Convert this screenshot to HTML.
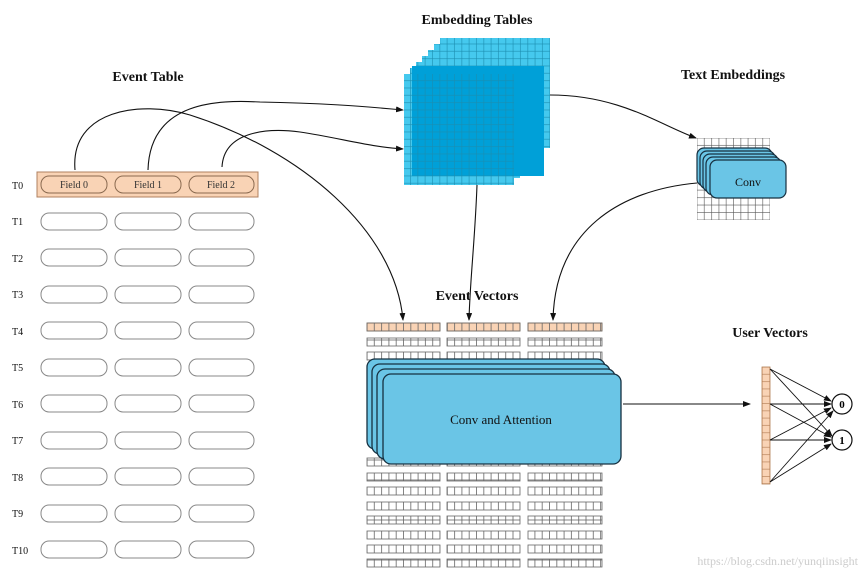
<!DOCTYPE html>
<html><head><meta charset="utf-8"><style>
html,body{margin:0;padding:0;background:#fff}
svg{display:block}
text{font-family:"Liberation Serif",serif}
</style></head><body>
<svg width="868" height="577" viewBox="0 0 868 577" xmlns="http://www.w3.org/2000/svg">
<defs>
<pattern id="cube" width="7.33" height="7.33" patternUnits="userSpaceOnUse">
<rect width="7.33" height="7.33" fill="none" stroke="#1b8db0" stroke-width="0.6"/>
</pattern>
<pattern id="tg" x="697" y="138" width="7.3" height="7.45" patternUnits="userSpaceOnUse">
<rect width="7.3" height="7.45" fill="none" stroke="#555" stroke-width="0.6"/>
</pattern>
<pattern id="ev" x="367" y="0" width="7.3" height="20" patternUnits="userSpaceOnUse">
<rect width="7.3" height="20" fill="none" stroke="#666" stroke-width="0.8"/>
</pattern>
<pattern id="uv" x="762" y="367" width="8" height="7.3" patternUnits="userSpaceOnUse">
<rect width="8" height="7.3" fill="none" stroke="#b07a50" stroke-width="0.6"/>
</pattern>
<marker id="ar" markerWidth="8" markerHeight="6" refX="7" refY="3" orient="auto" markerUnits="userSpaceOnUse">
<path d="M0,0 L8,3 L0,6 Z" fill="#111"/>
</marker>
</defs>

<!-- Titles -->
<g font-weight="bold" font-size="14" fill="#111">
<text x="148" y="81" text-anchor="middle">Event Table</text>
<text x="477" y="24" text-anchor="middle">Embedding Tables</text>
<text x="733" y="79" text-anchor="middle">Text Embeddings</text>
<text x="477" y="300" text-anchor="middle">Event Vectors</text>
<text x="770" y="337" text-anchor="middle">User Vectors</text>
</g>

<!-- Event table -->
<rect x="37" y="172" width="221" height="25" fill="#f9d3b5" stroke="#b08060" stroke-width="1"/>
<g font-size="10" fill="#111">
<text x="12" y="189">T0</text><text x="12" y="225">T1</text><text x="12" y="262">T2</text><text x="12" y="298">T3</text>
<text x="12" y="335">T4</text><text x="12" y="371">T5</text><text x="12" y="408">T6</text><text x="12" y="444">T7</text>
<text x="12" y="481">T8</text><text x="12" y="517">T9</text><text x="12" y="554">T10</text>
</g>
<g fill="#f9d3b5" stroke="#8a6a50" stroke-width="1">
<rect x="41" y="176" width="66" height="17" rx="8"/><rect x="115" y="176" width="66" height="17" rx="8"/><rect x="189" y="176" width="65" height="17" rx="8"/>
</g>
<g font-size="10" fill="#333" text-anchor="middle">
<text x="74" y="188">Field 0</text><text x="148" y="188">Field 1</text><text x="221" y="188">Field 2</text>
</g>
<g fill="#fff" stroke="#888" stroke-width="1">
<rect x="41" y="213" width="66" height="17" rx="8"/><rect x="115" y="213" width="66" height="17" rx="8"/><rect x="189" y="213" width="65" height="17" rx="8"/>
<rect x="41" y="249" width="66" height="17" rx="8"/><rect x="115" y="249" width="66" height="17" rx="8"/><rect x="189" y="249" width="65" height="17" rx="8"/>
<rect x="41" y="286" width="66" height="17" rx="8"/><rect x="115" y="286" width="66" height="17" rx="8"/><rect x="189" y="286" width="65" height="17" rx="8"/>
<rect x="41" y="322" width="66" height="17" rx="8"/><rect x="115" y="322" width="66" height="17" rx="8"/><rect x="189" y="322" width="65" height="17" rx="8"/>
<rect x="41" y="359" width="66" height="17" rx="8"/><rect x="115" y="359" width="66" height="17" rx="8"/><rect x="189" y="359" width="65" height="17" rx="8"/>
<rect x="41" y="395" width="66" height="17" rx="8"/><rect x="115" y="395" width="66" height="17" rx="8"/><rect x="189" y="395" width="65" height="17" rx="8"/>
<rect x="41" y="432" width="66" height="17" rx="8"/><rect x="115" y="432" width="66" height="17" rx="8"/><rect x="189" y="432" width="65" height="17" rx="8"/>
<rect x="41" y="468" width="66" height="17" rx="8"/><rect x="115" y="468" width="66" height="17" rx="8"/><rect x="189" y="468" width="65" height="17" rx="8"/>
<rect x="41" y="505" width="66" height="17" rx="8"/><rect x="115" y="505" width="66" height="17" rx="8"/><rect x="189" y="505" width="65" height="17" rx="8"/>
<rect x="41" y="541" width="66" height="17" rx="8"/><rect x="115" y="541" width="66" height="17" rx="8"/><rect x="189" y="541" width="65" height="17" rx="8"/>
</g>

<!-- Embedding cube -->
<g>
<rect x="440" y="38" width="110" height="110" fill="#45c9ee"/><rect x="440" y="38" width="110" height="110" fill="url(#cube)"/>
<rect x="434" y="44" width="110" height="110" fill="#45c9ee"/><rect x="434" y="44" width="110" height="110" fill="url(#cube)"/>
<rect x="428" y="50" width="110" height="110" fill="#45c9ee"/><rect x="428" y="50" width="110" height="110" fill="url(#cube)"/>
<rect x="422" y="56" width="110" height="110" fill="#45c9ee"/><rect x="422" y="56" width="110" height="110" fill="url(#cube)"/>
<rect x="416" y="62" width="110" height="110" fill="#45c9ee"/><rect x="416" y="62" width="110" height="110" fill="url(#cube)"/>
<rect x="410" y="68" width="110" height="110" fill="#45c9ee"/><rect x="410" y="68" width="110" height="110" fill="url(#cube)"/>
<rect x="404" y="74" width="110" height="111" fill="#45c9ee"/>
<rect x="412" y="66" width="132" height="110" fill="#00a0d8"/>
<rect x="404" y="74" width="110" height="111" fill="url(#cube)"/>
</g>

<!-- Text embeddings grid -->
<rect x="697" y="138" width="73" height="82" fill="#fff"/>
<rect x="697" y="138" width="73" height="82" fill="url(#tg)"/>
<g fill="#6ac5e6" stroke="#163040" stroke-width="1.2">
<rect x="697" y="148" width="75" height="38" rx="7"/>
<rect x="700" y="151" width="75" height="38" rx="7"/>
<rect x="703" y="154" width="75" height="38" rx="7"/>
<rect x="706" y="157" width="75" height="38" rx="7"/>
<rect x="710" y="160" width="76" height="38" rx="7"/>
</g>
<text x="748" y="186" font-size="12" text-anchor="middle" fill="#111">Conv</text>

<!-- Event vectors -->
<g>
<rect x="367" y="323" width="73" height="8" fill="#f9d3b5" stroke="#b08060" stroke-width="0.8"/>
<rect x="447" y="323" width="73" height="8" fill="#f9d3b5" stroke="#b08060" stroke-width="0.8"/>
<rect x="528" y="323" width="74" height="8" fill="#f9d3b5" stroke="#b08060" stroke-width="0.8"/>
</g>
<g id="evrows" fill="url(#ev)" stroke="#666" stroke-width="0.8">
<rect x="367" y="323" width="73" height="8"/><rect x="447" y="323" width="73" height="8"/><rect x="528" y="323" width="74" height="8"/>
<rect x="367" y="338" width="73" height="8"/><rect x="447" y="338" width="73" height="8"/><rect x="528" y="338" width="74" height="8"/>
<rect x="367" y="352" width="73" height="8"/><rect x="447" y="352" width="73" height="8"/><rect x="528" y="352" width="74" height="8"/>
<rect x="367" y="458" width="73" height="8"/><rect x="447" y="458" width="73" height="8"/><rect x="528" y="458" width="74" height="8"/>
<rect x="367" y="473" width="73" height="8"/><rect x="447" y="473" width="73" height="8"/><rect x="528" y="473" width="74" height="8"/>
<rect x="367" y="487" width="73" height="8"/><rect x="447" y="487" width="73" height="8"/><rect x="528" y="487" width="74" height="8"/>
<rect x="367" y="502" width="73" height="8"/><rect x="447" y="502" width="73" height="8"/><rect x="528" y="502" width="74" height="8"/>
<rect x="367" y="516" width="73" height="8"/><rect x="447" y="516" width="73" height="8"/><rect x="528" y="516" width="74" height="8"/>
<rect x="367" y="531" width="73" height="8"/><rect x="447" y="531" width="73" height="8"/><rect x="528" y="531" width="74" height="8"/>
<rect x="367" y="545" width="73" height="8"/><rect x="447" y="545" width="73" height="8"/><rect x="528" y="545" width="74" height="8"/>
<rect x="367" y="559" width="73" height="8"/><rect x="447" y="559" width="73" height="8"/><rect x="528" y="559" width="74" height="8"/>
</g>
<g fill="#6ac5e6" stroke="#163040" stroke-width="1.3">
<rect x="367" y="359" width="238" height="90" rx="8"/>
<rect x="372" y="364" width="238" height="90" rx="8"/>
<rect x="377" y="369" width="238" height="90" rx="8"/>
<rect x="383" y="374" width="238" height="90" rx="8"/>
</g>
<text x="501" y="424" font-size="13" text-anchor="middle" fill="#111">Conv and Attention</text>

<!-- User vectors -->
<rect x="762" y="367" width="8" height="117" fill="#f9d3b5" stroke="#b07a50" stroke-width="0.8"/>
<rect x="762" y="367" width="8" height="117" fill="url(#uv)"/>
<circle cx="842" cy="404" r="10" fill="#fff" stroke="#111" stroke-width="1.2"/>
<circle cx="842" cy="440" r="10" fill="#fff" stroke="#111" stroke-width="1.2"/>
<text x="842" y="408" font-size="11" font-weight="bold" text-anchor="middle">0</text>
<text x="842" y="444" font-size="11" font-weight="bold" text-anchor="middle">1</text>
<g stroke="#111" stroke-width="0.9" marker-end="url(#ar)">
<line x1="770" y1="369" x2="831" y2="401"/><line x1="770" y1="369" x2="832" y2="436"/>
<line x1="770" y1="404" x2="831" y2="404"/><line x1="770" y1="404" x2="831" y2="437"/>
<line x1="770" y1="440" x2="831" y2="408"/><line x1="770" y1="440" x2="831" y2="440"/>
<line x1="770" y1="482" x2="833" y2="411"/><line x1="770" y1="482" x2="831" y2="444"/>
</g>

<!-- Connectors -->
<g fill="none" stroke="#111" stroke-width="1.1" marker-end="url(#ar)">
<path d="M75,170 C70,110 140,100 190,115 C300,150 395,230 403,320"/>
<path d="M148,170 C150,100 220,100 260,102 C320,103 360,106 403,110"/>
<path d="M222,167 C224,130 270,128 300,132 C340,138 370,147 403,149"/>
<path d="M477,185 C475,240 470,280 469,320"/>
<path d="M550,95 C620,95 660,125 696,138"/>
<path d="M697,183 C620,190 555,230 553,320"/>
<path d="M623,404 L750,404"/>
</g>

<text x="858" y="565" font-size="12" text-anchor="end" fill="#ccc" font-family="Liberation Sans">https://blog.csdn.net/yunqiinsight</text>
</svg>
</body></html>
